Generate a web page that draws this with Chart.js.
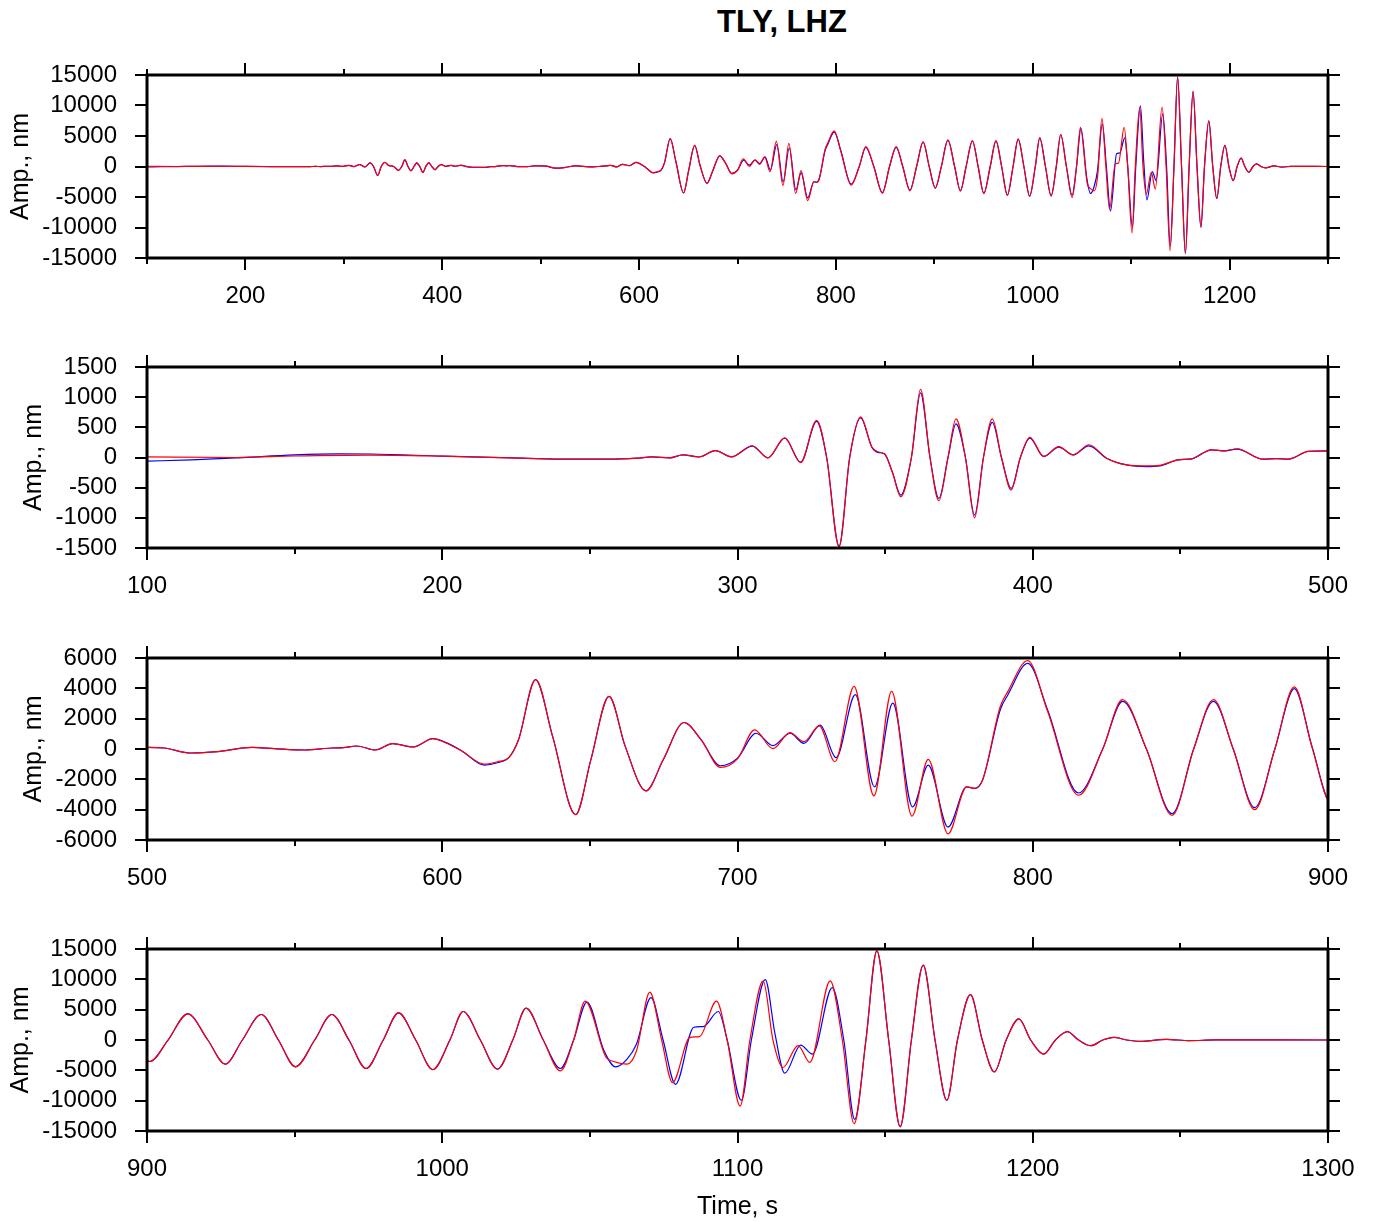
<!DOCTYPE html>
<html>
<head>
<meta charset="utf-8">
<title>TLY, LHZ</title>
<script src="https://cdn.jsdelivr.net/npm/chart.js@4"></script>
<style>
  body { margin: 0; background: #fff; }
  #page { position: relative; width: 1375px; height: 1222px; font-family: 'Liberation Sans', Helvetica, Arial, sans-serif; }
  #title { position: absolute; left: 782px; top: 6px; transform: translateX(-50%); font-weight: bold; font-size: 31px; line-height: 31px; white-space: nowrap; }
  canvas { position: absolute; left: 0; }
</style>
</head>
<body>
<div id="page">
  <div id="title">TLY, LHZ</div>
</div>
<script>
// Blue trace (time in s, amplitude in nm)
const blueTime = [100, 115, 131, 150, 165, 176, 200, 227, 243, 256, 266, 271, 277, 281.5, 287, 292.5, 298,
  305, 310.3, 316, 321.4, 326.8, 330.2, 334.4, 338, 341.7, 345.5, 347.5, 349.8, 352.5, 355.3, 358.9, 362,
  365.2, 368.2, 371.3, 374, 377.2, 380.3, 383.3, 386.3, 389.4, 392.7, 395.8, 399, 403.7, 408.8, 413.7, 419,
  425, 431.8, 438.5, 443, 449.2, 453.8, 460.5, 465.2, 469.2, 478, 482.6, 486.6, 493.3, 500,
  505.8, 514.8, 523.9, 535.5, 543.2, 553.5, 562.6, 566.5, 571, 577.4, 583.2, 590.3, 596.8, 601.3, 606.5,
  614.2, 618.7, 622.6, 625.8, 631.6, 637.4, 645.2, 650.3, 656.5, 662, 669, 674.8, 681.9, 687.7, 694.2, 700,
  706.3, 712, 717.8, 722.5, 728, 733.4, 739.9, 746.4, 752.6, 759.3, 764.6, 771.3, 777.6, 780.3, 783, 789,
  791.6, 798.3, 805, 815.5, 823.7, 830.4, 838.5, 847.2, 854.5, 861.2, 867.9, 875.2, 882, 888.6, 894.6,
  901, 907, 913.8, 920.6, 926.5, 932.3, 938.7, 944.5, 950.3, 956.8, 962.6, 968.4, 974.2, 980, 985.2, 991,
  996.8, 1002.6, 1007.1, 1012.9, 1018.7, 1023.9, 1028.4, 1034.2, 1040, 1044.5, 1049, 1054.8, 1058.7, 1062.6,
  1065.8, 1070.7, 1074.8, 1079, 1085.2, 1088.4, 1093.5, 1096.5, 1101.3, 1104.7, 1109.4, 1112.7, 1116, 1121.4,
  1125.4, 1132.1, 1136, 1139.7, 1143.5, 1147.2, 1151.2, 1155.1, 1158.9, 1162.9, 1166.9, 1170.9, 1174.5,
  1178.9, 1182.9, 1187, 1191, 1195.3, 1199.3, 1203.7, 1207.7, 1211.7, 1215.5, 1219.7, 1223.7, 1227.5,
  1231.8, 1236.5, 1245.2, 1253.2, 1261.9, 1300];
const blueAmp = [-60, -40, -5, 44, 60, 58, 22, -11, -28, -28, -11, 11, -5, 44, 8, 115, 12,
  190, -5, 320, -78, 600, 0, -1467, 0, 656, 170, 85, 60, -250, -622, 0, 1072,
  0, -678, 0, 556, 0, -955, 0, 583, 0, -511, 0, 322, 17, 172, 44, 194,
  -11, -122, -150, -139, -39, -22, 128, 111, 139, -28, -17, -28, 100, 110,
  66, -265, -177, 110, 22, -66, 66, 88, 199, -66, 354, 133, 685, 420, -110,
  -1060, -906, -552, 597, 4575, 818, -4330, -730, 3470, 155, -2760, -730, 1746, 600, -1105, -600,
  1040, 220, 1040, 375, 1570, -575, 3580, -2500, 3030, -3820, -1060, -5150, -2500, -2600, -2050, 2590,
  3580, 5640, 2590, -2900, 0, 3140, 0, -4270, 0, 3140, 0, -3870, 0, 3980, 155,
  -3540, -110, 4310, 0, -3980, 0, 4200, 0, -4420, 0, 4200, 0, -4700, 0, 4480, 0,
  -4870, 0, 4700, 0, -4810, 0, 5250, 0, -4700, 0, 6250, -1770, -4420, -3150,
  -660, 6970, 0, -7300, 2100, 2210, 4700, 0, -9950, 0, 9950, 1000, -5470, -830,
  -2320, 8630, 0, -13100, 0, 14700, 0, -14300, 0, 12330, 0, -9950, 0,
  7470, 0, -5250, 0, 3480, 0, -2320, 0, 1380, 0, -940, 0, 440,
  0, -220, 110, -110, 20, 0];

// Red trace (time in s, amplitude in nm)
const redTime = [100, 130, 150, 175, 200, 227, 243, 256, 266, 271, 277, 281.5, 287, 292.5, 298,
  305, 310.3, 316, 321.4, 326.8, 330.2, 334.4, 338, 341.7, 345.5, 347.5, 349.8, 352.5, 355.3, 358.9, 362,
  365.2, 368.2, 371.3, 374, 377.2, 380.3, 383.3, 386.3, 389.4, 392.7, 395.8, 399, 403.7, 408.8, 413.7, 419,
  425, 431.8, 438.5, 443, 449.2, 453.8, 460.5, 465.2, 469.2, 478, 482.6, 486.6, 493.3, 500,
  505.8, 514.8, 523.9, 535.5, 543.2, 553.5, 562.6, 566.5, 571, 577.4, 583.2, 590.3, 596.8, 601.3, 606.5,
  614.2, 618.7, 622.6, 625.8, 631.6, 637.4, 645.2, 650.3, 656.5, 662, 669, 674.8, 681.9, 687.7, 694.2, 700,
  705.8, 712, 717.8, 722.5, 727.7, 733, 739.5, 746.2, 752.2, 759.1, 764.6, 771.3, 777.6, 780.3, 783, 789,
  791.6, 798.3, 805, 815.5, 823.7, 830.4, 838.5, 847.2, 854.5, 861.2, 867.9, 875.2, 882, 888.6, 894.6,
  901, 907, 913.8, 920.6, 926.5, 932.3, 938.7, 944.5, 950.3, 956.8, 962.6, 968.4, 974.2, 980, 985.2, 991,
  996.8, 1002.6, 1007.1, 1012.9, 1018.7, 1023.9, 1028.4, 1034.2, 1040, 1044.5, 1048.4, 1055.5, 1058.1, 1062.6,
  1065.8, 1070.3, 1074.3, 1078, 1083.9, 1087.1, 1092.9, 1096.5, 1100.9, 1104.2, 1108.7, 1112, 1115.4, 1120.5,
  1124.5, 1131.4, 1135.5, 1139.5, 1143.5, 1147.2, 1151.2, 1155.1, 1158.9, 1162.9, 1166.9, 1170.9, 1174.5,
  1178.9, 1182.9, 1187, 1191, 1195.3, 1199.3, 1203.7, 1207.7, 1211.7, 1215.5, 1219.7, 1223.7, 1227.5,
  1231.8, 1236.5, 1245.2, 1253.2, 1261.9, 1300];
const redAmp = [10, 0, 25, 40, 22, -11, -28, -28, -11, 11, -5, 44, 8, 115, 12,
  195, -5, 325, -85, 617, 0, -1483, 0, 672, 175, 95, 60, -250, -650, 0, 1128,
  0, -717, 0, 639, 0, -1000, 0, 639, 0, -539, 0, 335, 17, 180, 44, 211,
  -11, -122, -140, -130, -39, -22, 128, 111, 145, -28, -17, -28, 100, 110,
  66, -265, -177, 110, 22, -66, 66, 88, 199, -66, 354, 133, 685, 400, -110,
  -995, -840, -552, 597, 4575, 818, -4330, -730, 3470, 155, -2760, -730, 1746, 600, -1215, -650,
  1260, 22, 1080, 486, 1525, -840, 4130, -3094, 3800, -4420, -685, -5590, -2500, -2600, -2050, 2800,
  3800, 5830, 2500, -3050, 0, 3250, 0, -4375, 0, 3250, 0, -4000, 0, 4090, 100,
  -3540, -110, 4310, 0, -3980, 0, 4200, 0, -4420, 0, 4200, 0, -4700, 0, 4480, 0,
  -4870, 0, 4700, 0, -4810, 0, 5250, 0, -5090, 0, 6400, -2880, -3540, -3980,
  -1770, 7900, 0, -7020, 440, 550, 6400, 0, -10900, 0, 9730, 0, -4530, -940,
  -3700, 9730, 0, -13800, 0, 14700, 0, -14300, 0, 12330, 0, -9950, 0,
  7470, 0, -5250, 0, 3480, 0, -2320, 0, 1380, 0, -940, 0, 440,
  0, -220, 110, -110, 20, 0];

// Axis ranges and tick labels
const xRange1 = [100, 1300], xTicks1 = [200, 400, 600, 800, 1000, 1200];
const xRange2 = [100, 500],  xTicks2 = [100, 200, 300, 400, 500];
const xRange3 = [500, 900],  xTicks3 = [500, 600, 700, 800, 900];
const xRange4 = [900, 1300], xTicks4 = [900, 1000, 1100, 1200, 1300];
const yTicks15000 = [-15000, -10000, -5000, 0, 5000, 10000, 15000];
const yTicks1500 = [-1500, -1000, -500, 0, 500, 1000, 1500];
const yTicks6000 = [-6000, -4000, -2000, 0, 2000, 4000, 6000];

Chart.defaults.font.family = "'Liberation Sans', Helvetica, Arial, sans-serif";
Chart.defaults.font.size = 24;
Chart.defaults.color = '#000';

const redPts = redTime.map((t, i) => ({ x: t, y: redAmp[i] }));
const bluePts = blueTime.map((t, i) => ({ x: t, y: blueAmp[i] }));

// GMT-like frame: thick box, ticks outward on all four sides
const framePlugin = {
  id: 'frame',
  afterDraw(chart, args, opts) {
    const { ctx, chartArea: a, scales: { x, y } } = chart;
    const major = opts.xMajor;
    const minor = (major[1] - major[0]) / 2;
    ctx.save();
    ctx.strokeStyle = '#000';
    ctx.lineWidth = 2;
    ctx.beginPath();
    for (let v = x.min; v <= x.max + 1e-6; v += minor) {
      const px = Math.round(x.getPixelForValue(v));
      const len = major.includes(v) ? 12 : 6;
      ctx.moveTo(px, a.top); ctx.lineTo(px, a.top - len);
      ctx.moveTo(px, a.bottom); ctx.lineTo(px, a.bottom + len);
    }
    opts.yMajor.forEach(v => {
      const py = Math.round(y.getPixelForValue(v));
      ctx.moveTo(a.left, py); ctx.lineTo(a.left - 12, py);
      ctx.moveTo(a.right, py); ctx.lineTo(a.right + 12, py);
    });
    ctx.stroke();
    ctx.lineWidth = 3;
    ctx.strokeRect(a.left, a.top, a.right - a.left, a.bottom - a.top);
    ctx.restore();
  }
};

function drawPanel(p) {
  const canvas = document.createElement('canvas');
  canvas.width = 1375;
  canvas.height = p.bottom - p.top + 20 + p.axisH;
  canvas.style.top = (p.top - 20) + 'px';
  document.getElementById('page').appendChild(canvas);

  const pad = { top: 20, left: p.left, right: 47, bottom: 0 };
  const chart = new Chart(canvas, {
    type: 'line',
    data: {
      datasets: [
        { data: redPts, borderColor: '#ff0000', order: 0 },
        { data: bluePts, borderColor: '#0000ff', order: 1 }
      ]
    },
    options: {
      responsive: false,
      animation: false,
      devicePixelRatio: 1,
      layout: { padding: pad },
      elements: {
        point: { radius: 0 },
        line: { borderWidth: 1.2, cubicInterpolationMode: 'monotone', fill: false }
      },
      plugins: {
        legend: { display: false },
        title: { display: false },
        tooltip: { enabled: false },
        frame: { xMajor: p.xTicks, yMajor: p.yTicks }
      },
      scales: {
        x: {
          type: 'linear',
          min: p.xRange[0],
          max: p.xRange[1],
          grid: { display: false, drawTicks: false },
          border: { display: false },
          ticks: { autoSkip: false, maxRotation: 0, padding: 24, callback: v => String(v) },
          afterBuildTicks: s => { s.ticks = p.xTicks.map(v => ({ value: v })); },
          afterFit: s => { s.height = p.axisH; s.paddingLeft = 0; s.paddingRight = 0; },
          title: { display: !!p.xTitle, text: p.xTitle || '', padding: 0, font: { size: 25 } }
        },
        y: {
          min: p.yTicks[0],
          max: p.yTicks[p.yTicks.length - 1],
          grid: { display: false, drawTicks: false },
          border: { display: false },
          ticks: { autoSkip: false, padding: 30, callback: v => String(v) },
          afterBuildTicks: s => { s.ticks = p.yTicks.map(v => ({ value: v })); },
          afterFit: s => { s.width = 147 - p.left; s.paddingTop = 0; s.paddingBottom = 0; },
          title: { display: true, text: 'Amp., nm', padding: 0, font: { size: 25 } }
        }
      }
    },
    plugins: [framePlugin]
  });

  // pin the plot frame to the wanted pixel box
  for (let k = 0; k < 2; k++) {
    const a = chart.chartArea;
    const dTop = 20 - a.top;
    const dBottom = a.bottom - (canvas.height - p.axisH);
    if (Math.abs(dTop) < 0.5 && Math.abs(dBottom) < 0.5) break;
    pad.top += dTop;
    pad.bottom += dBottom;
    chart.options.layout.padding = { top: pad.top, left: pad.left, right: pad.right, bottom: pad.bottom };
    chart.update();
  }
}

drawPanel({ top: 75,  bottom: 258,  left: 6,  axisH: 60, xRange: xRange1, xTicks: xTicks1, yTicks: yTicks15000 });
drawPanel({ top: 367, bottom: 548,  left: 19, axisH: 60, xRange: xRange2, xTicks: xTicks2, yTicks: yTicks1500 });
drawPanel({ top: 658, bottom: 840,  left: 19, axisH: 60, xRange: xRange3, xTicks: xTicks3, yTicks: yTicks6000 });
drawPanel({ top: 949, bottom: 1131, left: 6,  axisH: 91, xRange: xRange4, xTicks: xTicks4, yTicks: yTicks15000, xTitle: 'Time, s' });
</script>
</body>
</html>
